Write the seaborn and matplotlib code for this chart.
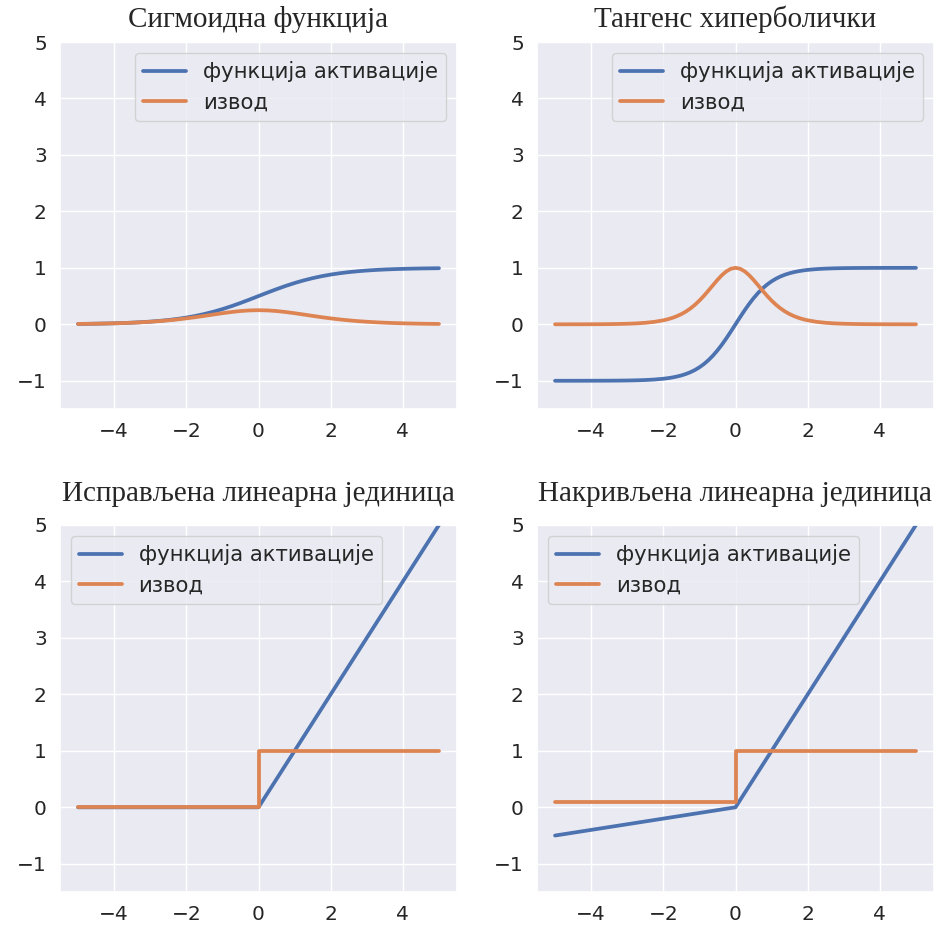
import numpy as np
import pandas as pd
import matplotlib
matplotlib.use("Agg")
import matplotlib.pyplot as plt
import seaborn as sns

# ---- data ----
x_sig = [-5.0, -4.75, -4.5, -4.25, -4.0, -3.75, -3.5, -3.25, -3.0, -2.75, -2.5,
         -2.25, -2.0, -1.75, -1.5, -1.25, -1.0, -0.75, -0.5, -0.25, 0.0,
         0.25, 0.5, 0.75, 1.0, 1.25, 1.5, 1.75, 2.0, 2.25, 2.5,
         2.75, 3.0, 3.25, 3.5, 3.75, 4.0, 4.25, 4.5, 4.75, 5.0]
sigmoid_act = [0.0067, 0.0086, 0.0110, 0.0141, 0.0180, 0.0230, 0.0293, 0.0373, 0.0474, 0.0601, 0.0759,
               0.0954, 0.1192, 0.1481, 0.1824, 0.2227, 0.2689, 0.3208, 0.3775, 0.4378, 0.5,
               0.5622, 0.6225, 0.6792, 0.7311, 0.7773, 0.8176, 0.8519, 0.8808, 0.9046, 0.9241,
               0.9399, 0.9526, 0.9627, 0.9707, 0.9770, 0.9820, 0.9859, 0.9890, 0.9914, 0.9933]
sigmoid_der = [0.0066, 0.0085, 0.0109, 0.0139, 0.0177, 0.0225, 0.0285, 0.0359, 0.0452, 0.0565, 0.0701,
               0.0863, 0.1050, 0.1261, 0.1492, 0.1731, 0.1966, 0.2179, 0.2350, 0.2461, 0.25,
               0.2461, 0.2350, 0.2179, 0.1966, 0.1731, 0.1492, 0.1261, 0.1050, 0.0863, 0.0701,
               0.0565, 0.0452, 0.0359, 0.0285, 0.0225, 0.0177, 0.0139, 0.0109, 0.0085, 0.0066]

x_tanh = [-5.0, -4.75, -4.5, -4.25, -4.0, -3.75, -3.5, -3.25, -3.0, -2.75, -2.5, -2.25,
          -2.0, -1.875, -1.75, -1.625, -1.5, -1.375, -1.25, -1.125, -1.0, -0.875, -0.75, -0.625,
          -0.5, -0.375, -0.25, -0.125, 0.0, 0.125, 0.25, 0.375, 0.5, 0.625, 0.75, 0.875,
          1.0, 1.125, 1.25, 1.375, 1.5, 1.625, 1.75, 1.875, 2.0,
          2.25, 2.5, 2.75, 3.0, 3.25, 3.5, 3.75, 4.0, 4.25, 4.5, 4.75, 5.0]
tanh_act = [-0.9999, -0.9999, -0.9998, -0.9996, -0.9993, -0.9989, -0.9982, -0.9970, -0.9951, -0.9919, -0.9866, -0.9780,
            -0.9640, -0.9541, -0.9414, -0.9254, -0.9052, -0.8798, -0.8483, -0.8093, -0.7616, -0.7039, -0.6352, -0.5546,
            -0.4621, -0.3584, -0.2449, -0.1243, 0.0, 0.1243, 0.2449, 0.3584, 0.4621, 0.5546, 0.6352, 0.7039,
            0.7616, 0.8093, 0.8483, 0.8798, 0.9052, 0.9254, 0.9414, 0.9541, 0.9640,
            0.9780, 0.9866, 0.9919, 0.9951, 0.9970, 0.9982, 0.9989, 0.9993, 0.9996, 0.9998, 0.9999, 0.9999]
tanh_der = [0.0002, 0.0003, 0.0005, 0.0008, 0.0013, 0.0022, 0.0036, 0.0060, 0.0099, 0.0162, 0.0266, 0.0435,
            0.0707, 0.0898, 0.1138, 0.1437, 0.1807, 0.2259, 0.2804, 0.3450, 0.4200, 0.5045, 0.5966, 0.6924,
            0.7865, 0.8716, 0.9400, 0.9845, 1.0, 0.9845, 0.9400, 0.8716, 0.7865, 0.6924, 0.5966, 0.5045,
            0.4200, 0.3450, 0.2804, 0.2259, 0.1807, 0.1437, 0.1138, 0.0898, 0.0707,
            0.0435, 0.0266, 0.0162, 0.0099, 0.0060, 0.0036, 0.0022, 0.0013, 0.0008, 0.0005, 0.0003, 0.0002]

x_relu_act = [-5.0, 0.0, 5.0]
relu_act = [0.0, 0.0, 5.0]
x_relu_der = [-5.0, 0.0, 0.0, 5.0]
relu_der = [0.0, 0.0, 1.0, 1.0]

x_leaky_act = [-5.0, 0.0, 5.0]
leaky_act = [-0.5, 0.0, 5.0]
x_leaky_der = [-5.0, 0.0, 0.0, 5.0]
leaky_der = [0.1, 0.1, 1.0, 1.0]

titles = ["Сигмоидна функција", "Тангенс хиперболички",
          "Исправљена линеарна јединица", "Накривљена линеарна јединица"]
label_act = "функција активације"
label_der = "извод"
legend_locs = ["upper right", "upper right", "upper left", "upper left"]

panels = [
    (x_sig, sigmoid_act, x_sig, sigmoid_der),
    (x_tanh, tanh_act, x_tanh, tanh_der),
    (x_relu_act, relu_act, x_relu_der, relu_der),
    (x_leaky_act, leaky_act, x_leaky_der, leaky_der),
]

# ---- style ----
sns.set_theme(style="darkgrid")
plt.rcParams["font.family"] = ["DejaVu Sans"]
blue, orange = sns.color_palette("deep")[0], sns.color_palette("deep")[1]

fig = plt.figure(figsize=(9.47, 9.32), dpi=100)
W, H = 947, 932
lefts = [60, 537]
tops = [42, 525]
aw, ah = 397, 367
title_pads = [11, 11, 17, 17]
positions = [(lefts[c], tops[r]) for r in range(2) for c in range(2)]

for i, ((xa, ya, xd, yd), (lx, ty)) in enumerate(zip(panels, positions)):
    ax = fig.add_axes([lx / W, 1 - (ty + ah) / H, aw / W, ah / H])
    df_a = pd.DataFrame({"x": xa, "y": ya})
    df_d = pd.DataFrame({"x": xd, "y": yd})
    sns.lineplot(data=df_a, x="x", y="y", ax=ax, color=blue, lw=2.7,
                 label=label_act, sort=False, estimator=None)
    sns.lineplot(data=df_d, x="x", y="y", ax=ax, color=orange, lw=2.7,
                 label=label_der, sort=False, estimator=None)
    ax.set_xlim(-5.5, 5.5)
    ax.set_ylim(-1.5, 5)
    ax.set_xticks([-4, -2, 0, 2, 4])
    ax.set_yticks([-1, 0, 1, 2, 3, 4, 5])
    ax.set_xlabel("")
    ax.set_ylabel("")
    ax.tick_params(labelsize=14.5, colors="#262626")
    ax.set_title(titles[i], family="Liberation Serif", fontsize=21, pad=title_pads[i])
    ax.legend(loc=legend_locs[i], fontsize=15.3)

fig.savefig("out.png", dpi=100)
